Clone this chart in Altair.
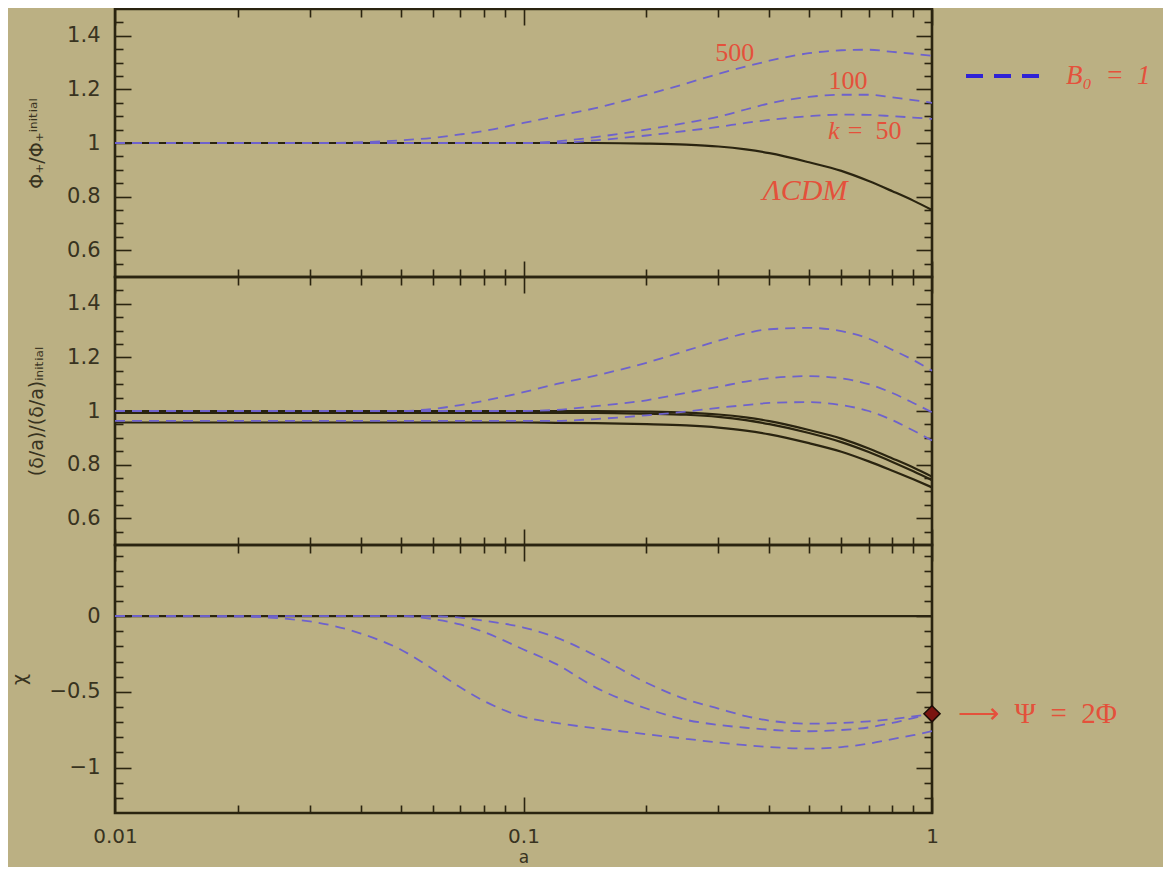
import altair as alt
import pandas as pd

# ---------------- data ----------------
a_vals = [0.01, 0.02, 0.03, 0.04, 0.05, 0.06, 0.07, 0.08, 0.1, 0.12, 0.15,
          0.2, 0.25, 0.3, 0.35, 0.4, 0.5, 0.6, 0.7, 0.8, 0.9, 1.0]

# top panel: Phi_+ / Phi_+^initial
phi_lcdm = [1.0, 1.0, 1.0, 1.0, 1.0, 1.0, 1.0, 1.0, 1.0, 1.0, 1.0,
            0.998, 0.994, 0.987, 0.976, 0.962, 0.928, 0.896, 0.858, 0.82, 0.785, 0.75]
phi_k500 = [1.0, 1.0, 1.0, 1.003, 1.01, 1.019, 1.032, 1.045, 1.075, 1.1, 1.13,
            1.18, 1.222, 1.258, 1.285, 1.307, 1.335, 1.346, 1.348, 1.34, 1.333, 1.325]
phi_k100 = [1.0, 1.0, 1.0, 1.0, 1.0, 1.0, 1.0, 1.0, 1.0, 1.006, 1.022,
            1.05, 1.075, 1.098, 1.125, 1.148, 1.172, 1.18, 1.18, 1.17, 1.16, 1.15]
phi_k50 = [1.0, 1.0, 1.0, 1.0, 1.0, 1.0, 1.0, 1.0, 1.0, 1.0, 1.01,
           1.028, 1.045, 1.06, 1.075, 1.086, 1.1, 1.106, 1.105, 1.1, 1.095, 1.09]

# middle panel: (delta/a) / (delta/a)_initial
grow_lcdm_1 = [1.0, 1.0, 1.0, 1.0, 1.0, 1.0, 1.0, 1.0, 1.0, 1.0, 1.0,
               0.998, 0.994, 0.987, 0.976, 0.962, 0.929, 0.897, 0.86, 0.823, 0.789, 0.755]
grow_lcdm_2 = [0.993, 0.993, 0.993, 0.993, 0.993, 0.993, 0.993, 0.993, 0.993, 0.993, 0.993,
               0.99, 0.986, 0.978, 0.966, 0.951, 0.918, 0.884, 0.847, 0.81, 0.775, 0.742]
grow_lcdm_3 = [0.957, 0.957, 0.957, 0.957, 0.957, 0.957, 0.957, 0.957, 0.957, 0.956, 0.955,
               0.951, 0.946, 0.938, 0.927, 0.913, 0.88, 0.848, 0.812, 0.777, 0.745, 0.715]
grow_k500 = [1.0, 1.0, 1.0, 1.0, 1.0, 1.008, 1.022, 1.038, 1.07, 1.1, 1.132,
             1.18, 1.225, 1.262, 1.29, 1.305, 1.31, 1.298, 1.27, 1.228, 1.19, 1.15]
grow_k100 = [1.0, 1.0, 1.0, 1.0, 1.0, 1.0, 1.0, 1.0, 1.0, 1.004, 1.018,
             1.04, 1.068, 1.09, 1.11, 1.122, 1.13, 1.122, 1.1, 1.067, 1.03, 0.995]
grow_k50 = [0.963, 0.963, 0.963, 0.963, 0.963, 0.963, 0.963, 0.963, 0.963, 0.963, 0.97,
            0.984, 0.998, 1.012, 1.022, 1.03, 1.033, 1.022, 1.0, 0.966, 0.927, 0.89]

# bottom panel: chi
chi_lcdm = [0.0, 0.0, 0.0, 0.0, 0.0, 0.0, 0.0, 0.0, 0.0, 0.0, 0.0,
            0.0, 0.0, 0.0, 0.0, 0.0, 0.0, 0.0, 0.0, 0.0, 0.0, 0.0]
chi_k500 = [0.0, -0.003, -0.035, -0.115, -0.22, -0.35, -0.47, -0.56, -0.665, -0.705, -0.74,
            -0.78, -0.81, -0.835, -0.852, -0.864, -0.875, -0.865, -0.842, -0.812, -0.786, -0.76]
chi_k100 = [0.0, 0.0, 0.0, 0.0, 0.0, -0.02, -0.055, -0.105, -0.22, -0.315, -0.47,
            -0.61, -0.685, -0.718, -0.737, -0.75, -0.76, -0.752, -0.735, -0.705, -0.673, -0.645]
chi_k50 = [0.0, 0.0, 0.0, 0.0, 0.0, 0.0, -0.01, -0.03, -0.075, -0.14, -0.26,
           -0.44, -0.55, -0.61, -0.66, -0.69, -0.71, -0.705, -0.695, -0.68, -0.662, -0.645]

psi_a = [1.0]
psi_chi = [-0.645]

# tick values and labels
x_major_ticks = [0.01, 0.1, 1]
x_minor_ticks = [0.02, 0.03, 0.04, 0.05, 0.06, 0.07, 0.08, 0.09,
                 0.2, 0.3, 0.4, 0.5, 0.6, 0.7, 0.8, 0.9]
ratio_major = [0.6, 0.8, 1.0, 1.2, 1.4]
ratio_minor = [0.55, 0.65, 0.7, 0.75, 0.85, 0.9, 0.95, 1.05, 1.1, 1.15, 1.25, 1.3, 1.35, 1.45]
chi_major = [-1, -0.5, 0]
chi_minor = [-1.2, -1.1, -0.9, -0.8, -0.7, -0.6, -0.4, -0.3, -0.2, -0.1, 0.1, 0.2, 0.3, 0.4]

curve_labels = ["500", "100", "k = 50", "ΛCDM"]
legend_label = "B₀\u2002=\u20021"
psi_label = "⟶\u2002Ψ\u2002=\u20022Φ"

# ---------------- style ----------------
BG = "#bbb083"
INK = "#2a2410"
LABEL = "#38331f"
DASH = "#6e62cc"
LEGEND_BLUE = "#2f22d6"
RED = "#e4513b"
W, H = 817, 268
XS = alt.Scale(type="log", domain=[0.01, 1], nice=False)


def long_df(curves):
    rows = []
    for name, vals in curves.items():
        for a, v in zip(a_vals, vals):
            rows.append({"a": a, "v": v, "curve": name})
    return pd.DataFrame(rows)


def ticks_axis(orient, vals, size):
    return alt.Axis(orient=orient, values=vals, tickSize=size, offset=-size,
                    labels=False, domain=False, grid=False, title=None,
                    ticks=True, tickColor=INK, tickWidth=1.6,
                    minExtent=0, maxExtent=size)


def make_panel(df_solid, df_dashed, ydom, ymaj, ymin, ytitle, is_bottom, extras):
    ys = alt.Scale(domain=ydom, nice=False, zero=False)

    def X(axis):
        return alt.X("a:Q", scale=XS, axis=axis)

    def Y(axis):
        return alt.Y("v:Q", scale=ys, axis=axis)

    if is_bottom:
        xlab = alt.Axis(orient="bottom", values=x_major_ticks, ticks=False, tickSize=0,
                        domain=False, grid=False, title="a",
                        labelExpr="toString(datum.value)", labelPadding=13,
                        labelFontSize=20, titleFontSize=17,
                        labelFlush=False, labelOverlap=False, titlePadding=3)
    else:
        xlab = None
    ylab = alt.Axis(orient="left", values=ymaj, ticks=False, tickSize=0, domain=False,
                    grid=False, title=ytitle,
                    labelExpr="replace(toString(datum.value), '-', '\u2212')",
                    labelPadding=15, titlePadding=20)

    solid = alt.Chart(df_solid).mark_line(color=INK, strokeWidth=2.2, interpolate="monotone").encode(
        x=X(xlab), y=Y(ylab), detail="curve:N")
    dashed = alt.Chart(df_dashed).mark_line(color=DASH, strokeWidth=1.8, strokeDash=[10, 7],
                                            interpolate="monotone").encode(
        x=X(None), y=Y(None), detail="curve:N")
    layers = [solid, dashed]
    for (xo, xv, xs_), (yo, yv, ys_) in [
        (("bottom", x_minor_ticks, 8), ("left", ymin, 8)),
        (("bottom", x_major_ticks, 16), ("left", ymaj, 16)),
        (("top", x_minor_ticks, 8), ("right", ymin, 8)),
        (("top", x_major_ticks, 16), ("right", ymaj, 16)),
    ]:
        layers.append(alt.Chart(df_solid).mark_point(opacity=0, size=1).encode(
            x=X(ticks_axis(xo, xv, xs_)), y=Y(ticks_axis(yo, yv, ys_))))
    layers += extras(ys)
    return alt.layer(*layers).resolve_axis(x="independent", y="independent").properties(
        width=W, height=H)


def text_layer(label, a, v, ys, size=26, style="normal", align="center"):
    return alt.Chart(pd.DataFrame({"t": [label]})).mark_text(
        font="Liberation Serif", fontSize=size, fontStyle=style, color=RED,
        align=align, baseline="middle").encode(
        x=alt.XDatum(a, type="quantitative", scale=XS, axis=None),
        y=alt.YDatum(v, type="quantitative", scale=ys, axis=None),
        text="t:N")


def top_extras(ys):
    df_leg = long_df({"k500": phi_k500})
    df_leg["model"] = legend_label
    legend = alt.Chart(df_leg).transform_filter("false").mark_line(
        strokeDash=[16, 11], strokeWidth=4).encode(
        x=alt.X("a:Q", scale=XS, axis=None),
        y=alt.Y("v:Q", scale=ys, axis=None),
        color=alt.Color("model:N",
                        scale=alt.Scale(domain=[legend_label], range=[LEGEND_BLUE]),
                        legend=alt.Legend(orient="none", legendX=849, legendY=25, title=None,
                                          symbolType="stroke", symbolSize=6400,
                                          symbolStrokeWidth=4, symbolDash=[17, 11],
                                          labelFont="Liberation Serif",
                                          labelFontStyle="italic", labelFontSize=27,
                                          labelColor=RED, labelOffset=18, padding=0,
                                          labelLimit=300)))
    k_sym, k_rest = curve_labels[2].split(" ", 1)
    return [
        text_layer(curve_labels[0], 0.329, 1.336, ys),
        text_layer(curve_labels[1], 0.623, 1.232, ys),
        text_layer(k_sym, 0.575, 1.045, ys, style="italic"),
        text_layer(k_rest.replace(" ", "\u2002"), 0.622, 1.045, ys, align="left"),
        text_layer(curve_labels[3], 0.489, 0.82, ys, size=30, style="italic"),
        legend,
    ]


def no_extras(ys):
    return []


def bottom_extras(ys):
    dot = alt.Chart(pd.DataFrame({"a": psi_a, "v": psi_chi})).mark_point(
        shape="diamond", filled=True, fill="#7a1410", stroke="#1b0c06", strokeWidth=1.5,
        size=260, opacity=1).encode(
        x=alt.X("a:Q", scale=XS, axis=None), y=alt.Y("v:Q", scale=ys, axis=None))
    return [dot, text_layer(psi_label, 1.158, -0.645, ys, size=29, align="left")]


top = make_panel(long_df({"lcdm": phi_lcdm}),
                 long_df({"k500": phi_k500, "k100": phi_k100, "k50": phi_k50}),
                 [0.5, 1.5], ratio_major, ratio_minor,
                 "Φ₊/Φ₊ⁱⁿⁱᵗⁱᵃˡ", False, top_extras)
mid = make_panel(long_df({"l1": grow_lcdm_1, "l2": grow_lcdm_2, "l3": grow_lcdm_3}),
                 long_df({"k500": grow_k500, "k100": grow_k100, "k50": grow_k50}),
                 [0.5, 1.5], ratio_major, ratio_minor,
                 "(δ/a)/(δ/a)ᵢₙᵢₜᵢₐₗ", False, no_extras)
bot = make_panel(long_df({"lcdm": chi_lcdm}),
                 long_df({"k500": chi_k500, "k100": chi_k100, "k50": chi_k50}),
                 [-1.3, 0.47], chi_major, chi_minor, "χ", True, bottom_extras)

chart = alt.vconcat(top, mid, bot, spacing=0, bounds="flush").properties(
    background=BG, padding={"left": 0, "top": -2, "right": 12, "bottom": 0}
).configure_view(stroke=INK, strokeWidth=2.6).configure_axis(
    labelFont="DejaVu Sans", labelFontSize=21, labelColor=LABEL,
    titleFont="DejaVu Sans", titleFontSize=19, titleColor=LABEL, titleFontWeight="normal")

chart.save("out.html", embed_options={"renderer": "svg", "actions": False})
